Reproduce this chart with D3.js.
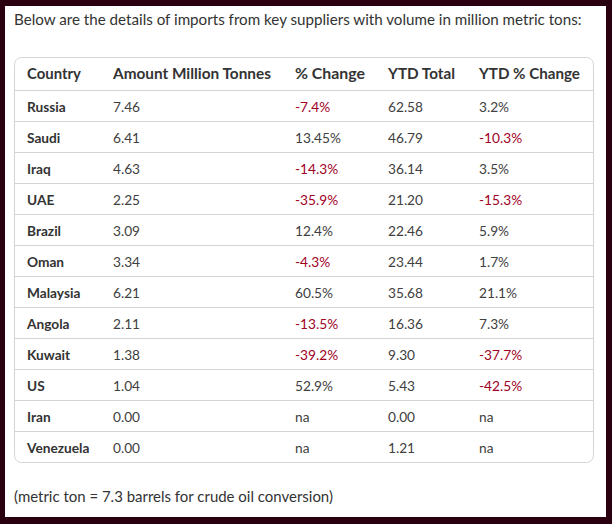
<!DOCTYPE html>
<html>
<head>
<meta charset="utf-8">
<script src="https://cdn.jsdelivr.net/npm/d3@7"></script>
<style>
  html, body { margin: 0; padding: 0; background: #2a0010; }
  svg { display: block; }
</style>
</head>
<body>
<svg id="chart" width="612" height="524"></svg>
<script>
// ---- data ----
const title = "Below are the details of imports from key suppliers with volume in million metric tons:";
const footnote = "(metric ton = 7.3 barrels for crude oil conversion)";
const headers = ["Country", "Amount Million Tonnes", "% Change", "YTD Total", "YTD % Change"];
const countries = ["Russia", "Saudi", "Iraq", "UAE", "Brazil", "Oman", "Malaysia", "Angola", "Kuwait", "US", "Iran", "Venezuela"];
const amounts = ["7.46", "6.41", "4.63", "2.25", "3.09", "3.34", "6.21", "2.11", "1.38", "1.04", "0.00", "0.00"];
const pctChange = ["-7.4%", "13.45%", "-14.3%", "-35.9%", "12.4%", "-4.3%", "60.5%", "-13.5%", "-39.2%", "52.9%", "na", "na"];
const ytdTotal = ["62.58", "46.79", "36.14", "21.20", "22.46", "23.44", "35.68", "16.36", "9.30", "5.43", "0.00", "1.21"];
const ytdPct = ["3.2%", "-10.3%", "3.5%", "-15.3%", "5.9%", "1.7%", "21.1%", "7.3%", "-37.7%", "-42.5%", "na", "na"];

// ---- layout ----
const W = 612, H = 524;
const FONT = "Lato, 'Noto Sans', sans-serif";
const colX = [27, 113, 295, 388, 479];
const box = { x: 14.5, y: 57.5, w: 579, h: 405, r: 7 };
const headerBottom = 90;

const svg = d3.select("#chart");

// outer white panel
svg.append("rect").attr("x", 5).attr("y", 6).attr("width", 601).attr("height", 511).attr("fill", "#ffffff");

function fitText(sel, targetW) {
  const node = sel.node();
  const fs = parseFloat(sel.attr("font-size"));
  const w = node.getComputedTextLength();
  if (w > 0) sel.attr("font-size", (fs * targetW / w).toFixed(2));
  return sel;
}

// title
fitText(svg.append("text").attr("x", 14).attr("y", 25).attr("font-family", FONT)
  .attr("font-size", 15).attr("fill", "#333333").text(title), 568);

// table box
svg.append("rect").attr("x", box.x).attr("y", box.y).attr("width", box.w).attr("height", box.h)
  .attr("rx", box.r).attr("ry", box.r).attr("fill", "#ffffff").attr("stroke", "#d4d4d4").attr("stroke-width", 1);

// rows scale
const y = d3.scaleBand().domain(countries).range([headerBottom, box.y + box.h]).padding(0);

// grid lines (header bottom + between rows)
const lines = [headerBottom].concat(countries.slice(0, -1).map(c => y(c) + y.bandwidth()));
svg.append("g").selectAll("line").data(lines).join("line")
  .attr("x1", box.x).attr("x2", box.x + box.w)
  .attr("y1", d => Math.round(d) + 0.5).attr("y2", d => Math.round(d) + 0.5)
  .attr("stroke", "#d4d4d4").attr("stroke-width", 1);

// headers
const headerW = [54, 158, 70, 67, 101];
svg.append("g").selectAll("text").data(headers).join("text")
  .attr("x", (d, i) => colX[i]).attr("y", (box.y + headerBottom) / 2 + 5.5)
  .attr("font-family", FONT).attr("font-weight", 700).attr("font-size", 14.5)
  .attr("fill", "#333333").text(d => d)
  .each(function (d, i) { fitText(d3.select(this), headerW[i]); });

// body
const rows = countries.map((c, i) => [c, amounts[i], pctChange[i], ytdTotal[i], ytdPct[i]]);
const g = svg.append("g");
rows.forEach((r, ri) => {
  const cy = y(countries[ri]) + y.bandwidth() / 2 + 6;
  r.forEach((v, ci) => {
    const neg = ci > 0 && String(v).startsWith("-");
    g.append("text").attr("x", colX[ci]).attr("y", cy)
      .attr("font-family", FONT)
      .attr("font-weight", ci === 0 ? 700 : 400)
      .attr("font-size", 13.7)
      .attr("fill", neg ? "#a0001e" : (ci === 0 ? "#333333" : "#404040"))
      .text(v);
  });
});

// footnote
fitText(svg.append("text").attr("x", 14).attr("y", 502).attr("font-family", FONT)
  .attr("font-size", 15).attr("fill", "#333333").text(footnote), 319);
</script>
</body>
</html>
